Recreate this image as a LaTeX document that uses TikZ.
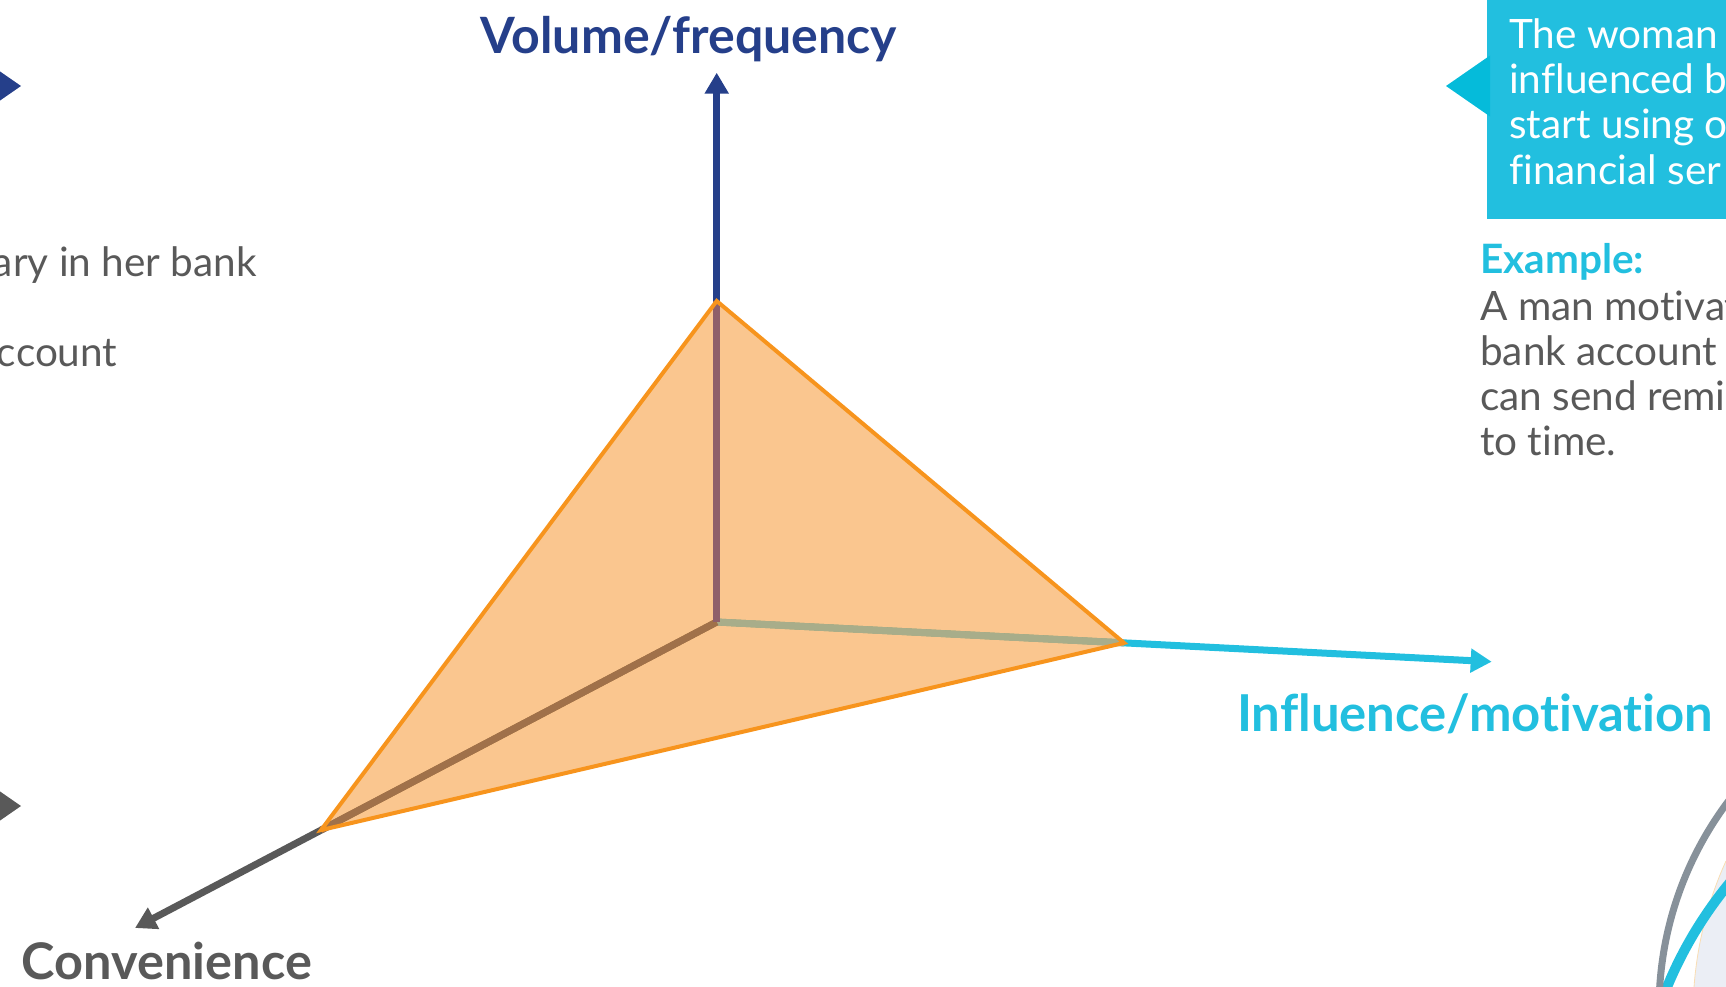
\documentclass[tikz,border=0pt]{standalone}
\usepackage{fontspec}
\setmainfont{Lato}[Ligatures=NoCommon]
\usetikzlibrary{arrows.meta}
\definecolor{dblue}{HTML}{253F8A}
\definecolor{cyanc}{HTML}{22BFDF}
\definecolor{cyand}{HTML}{05BBDA}
\definecolor{grayt}{HTML}{595959}
\definecolor{orng}{HTML}{F7941D}
\definecolor{orfill}{HTML}{F58D1F}
\definecolor{arcgray}{HTML}{87919A}
\definecolor{paleblue}{HTML}{EBEEF5}
\definecolor{faintor}{HTML}{F9DDB3}
\definecolor{innerblue}{HTML}{8E5F6A}
\definecolor{innercyan}{HTML}{A8AD8A}
\definecolor{innergray}{HTML}{A0714A}
\begin{document}
\begin{tikzpicture}[x=1pt,y=-1pt,
  axisline/.style={line width=7pt, line cap=round},
  axtip/.style={-{Triangle[width=23pt,length=21pt]}},
  bodytext/.style={font=\fontsize{40.5}{45.3}\selectfont, text=grayt, inner sep=0pt},
  boxtext/.style={font=\fontsize{40.5}{45.3}\selectfont, text=white, inner sep=0pt, anchor=base west},
  axlabel/.style={font=\bfseries, inner sep=0pt, anchor=base west}]
\useasboundingbox (0,0) rectangle (1726,987);
\clip (0,0) rectangle (1726,987);

% bottom-right circles
\fill[paleblue] (1726,861) .. controls (1708,900) and (1697,945) .. (1694,987) -- (1726,987) -- cycle;
\draw[faintor, line width=0.8pt] (1726,861) .. controls (1708,900) and (1697,945) .. (1694,987);
\draw[cyanc, line width=10pt] (2047,1144) circle (411pt);
\draw[arcgray, line width=7pt] (2005,1009) circle (346pt);

% left pointers
\fill[dblue] (21,86) -- (-23,55.5) -- (-23,116.5) -- cycle;
\fill[grayt] (21,806) -- (-23,775.5) -- (-23,836.5) -- cycle;

% coordinates
\coordinate (O) at (716.7,622);
\coordinate (Vtip) at (716.7,72.7);
\coordinate (Itip) at (1491.7,661.7);
\coordinate (Ctip) at (135,928);
\coordinate (T) at (716.7,301);
\coordinate (R) at (1124,642.9);
\coordinate (L) at (321,830.1);

% axes
\draw[axisline, dblue, axtip] (O) -- (Vtip);
\draw[axisline, cyanc, axtip] (O) -- (Itip);
\draw[axisline, grayt, axtip] (O) -- (Ctip);

% triangle
\fill[orfill, fill opacity=0.5] (T) -- (R) -- (L) -- cycle;
\draw[line width=7pt, innercyan] (O) -- (R);
\draw[line width=7pt, innergray] (O) -- (L);
\draw[line width=7pt, innerblue] (O) -- (T);
\draw[orng, line width=4pt, line join=miter] (T) -- (R) -- (L) -- cycle;

% axis labels
\node[axlabel, text=dblue] (vf) at (480.7,53.3) {\resizebox{416pt}{!}{Volume/frequency}};
\node[axlabel, text=cyanc] (im) at (1237,731.7) {\resizebox{476pt}{!}{Influence/motivation}};
\node[axlabel, text=grayt] (cv) at (21.7,979) {\resizebox{290pt}{!}{Convenience}};

% left text
\node[bodytext, anchor=base east] (l1) at (257,276.7) {ary in her bank};
\node[bodytext, anchor=base east] (l2) at (117.5,366.7) {ccount};

% right callout box
\fill[cyanc] (1487,0) rectangle (1726,219);
\fill[cyand] (1446,86) -- (1490,55.5) -- (1490,116.5) -- cycle;
\node[boxtext] (w1) at (1509,48.3) {The woman};
\node[boxtext] (w2) at (1509,93.6) {influenced b};
\node[boxtext] (w3) at (1509,138.9) {start using o};
\node[boxtext] (w4) at (1509,184.2) {financial ser};

% example
\node[bodytext, anchor=base west, text=cyanc, font=\fontsize{40.5}{45.3}\selectfont\bfseries] (e0) at (1480,273.3) {Example:};
\node[bodytext, anchor=base west] (e1) at (1480,320) {A man motivat};
\node[bodytext, anchor=base west] (e2) at (1480,365) {bank account};
\node[bodytext, anchor=base west] (e3) at (1480,410) {can send remi};
\node[bodytext, anchor=base west] (e4) at (1480,455) {to time.};
\end{tikzpicture}
\end{document}
